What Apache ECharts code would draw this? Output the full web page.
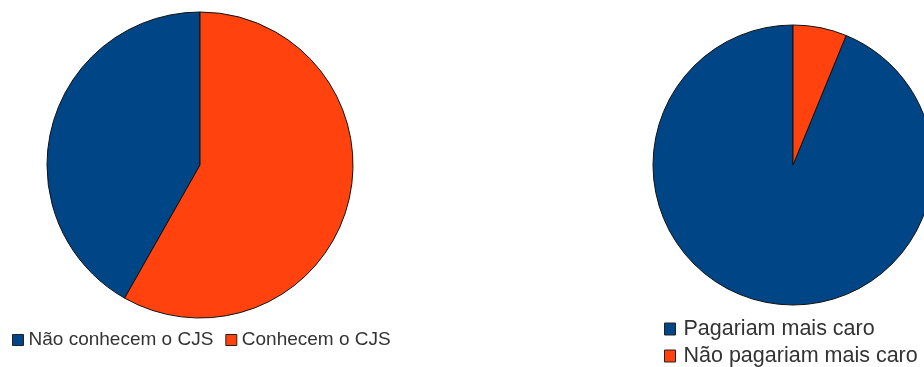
<!DOCTYPE html>
<html>
<head>
<meta charset="utf-8">
<script src="https://cdn.jsdelivr.net/npm/echarts@6/dist/echarts.min.js"></script>
<style>
  html, body { margin: 0; padding: 0; background: #fff; }
  #chart { width: 924px; height: 367px; }
</style>
</head>
<body>
<div id="chart"></div>
<script>
// Knowledge of the CJS
const cjsLabels = ['Não conhecem o CJS', 'Conhecem o CJS'];
const cjsValues = [41.8, 58.2];

// Willingness to pay more
const payLabels = ['Pagariam mais caro', 'Não pagariam mais caro'];
const payValues = [93.8, 6.2];

const palette = ['#004586', '#ff420e'];

function toData(labels, values) {
  return labels.map((name, i) => ({
    name: name,
    value: values[i],
    itemStyle: { color: palette[i] }
  }));
}

// Right-hand legend: one component per row so the rows stack exactly
const payLegendRows = payLabels.map((name, i) => ({
  data: [name],
  orient: 'vertical',
  left: 664,
  top: 318 + i * 27,
  padding: 0,
  itemWidth: 11,
  itemHeight: 12,
  icon: 'rect',
  itemStyle: { borderColor: '#222', borderWidth: 1 },
  textStyle: {
    fontFamily: 'Liberation Sans, Arial, sans-serif',
    fontSize: 21.5,
    color: '#333',
    lineHeight: 22,
    padding: [0, 0, 0, 3]
  },
  selectedMode: false
}));

const chart = echarts.init(document.getElementById('chart'), null, { renderer: 'canvas' });
chart.setOption({
  animation: false,
  color: palette,
  legend: [
    {
      data: cjsLabels,
      orient: 'horizontal',
      left: 12,
      top: 330,
      padding: 0,
      itemWidth: 11,
      itemHeight: 11,
      itemGap: 12,
      icon: 'rect',
      itemStyle: { borderColor: '#222', borderWidth: 1 },
      textStyle: {
        fontFamily: 'Liberation Sans, Arial, sans-serif',
        fontSize: 19,
        color: '#333',
        lineHeight: 20
      },
      selectedMode: false
    }
  ].concat(payLegendRows),
  series: [
    {
      type: 'pie',
      center: [200, 165],
      radius: 153,
      startAngle: 90,
      clockwise: false,
      label: { show: false },
      labelLine: { show: false },
      emphasis: { disabled: true },
      itemStyle: { borderColor: '#111', borderWidth: 1 },
      data: toData(cjsLabels, cjsValues)
    },
    {
      type: 'pie',
      center: [793, 165],
      radius: 140,
      startAngle: 90,
      clockwise: false,
      label: { show: false },
      labelLine: { show: false },
      emphasis: { disabled: true },
      itemStyle: { borderColor: '#111', borderWidth: 1 },
      data: toData(payLabels, payValues)
    }
  ]
});
</script>
</body>
</html>
